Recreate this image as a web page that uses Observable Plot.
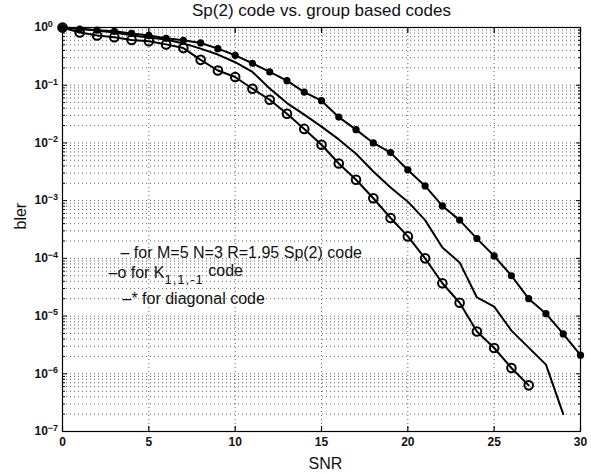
<!DOCTYPE html>
<html>
<head>
<meta charset="utf-8">
<script src="https://cdn.jsdelivr.net/npm/d3@7"></script>
<script src="https://cdn.jsdelivr.net/npm/@observablehq/plot@0.6"></script>
<style>
  html, body { margin: 0; padding: 0; background: #fff; }
  svg { font-family: "Liberation Sans", Arial, Helvetica, sans-serif; }
</style>
</head>
<body>
<div id="chart"></div>
<script>
// ---- data ----
const snrDiag = [0,1,2,3,4,5,6,7,8,9,10,11,12,13,14,15,16,17,18,19,20,21,22,23,24,25,26,27,28,29,30];
const blerDiag = [1, 0.94, 0.90, 0.86, 0.79, 0.73, 0.65, 0.60, 0.54, 0.43, 0.33, 0.24, 0.17, 0.12,
  0.076, 0.054, 0.028, 0.017, 0.010, 0.0068, 0.0034, 0.0018, 8.1e-4, 4.6e-4, 2.2e-4, 1.1e-4,
  5.0e-5, 2.0e-5, 1.1e-5, 4.9e-6, 2.1e-6];

const snrK = [0,1,2,3,4,5,6,7,8,9,10,11,12,13,14,15,16,17,18,19,20,21,22,23,24,25,26,27];
const blerK = [1, 0.82, 0.73, 0.68, 0.61, 0.58, 0.51, 0.44, 0.275, 0.18, 0.139, 0.087, 0.056, 0.032,
  0.0175, 0.0093, 0.0044, 0.0023, 0.0011, 5.0e-4, 2.4e-4, 1.0e-4, 3.7e-5, 1.7e-5, 5.4e-6,
  2.8e-6, 1.26e-6, 6.3e-7];

const snrSp = [0,1,2,3,4,5,6,7,8,9,10,11,12,13,14,15,16,17,18,19,20,21,22,23,24,25,26,27,28,29];
const blerSp = [1, 0.96, 0.89, 0.82, 0.73, 0.67, 0.62, 0.53, 0.43, 0.34, 0.25, 0.17, 0.088, 0.049,
  0.031, 0.0192, 0.0115, 0.0065, 0.0032, 0.00169, 9.6e-4, 4.6e-4, 1.54e-4, 8.5e-5, 2.1e-5,
  1.46e-5, 5.6e-6, 2.84e-6, 1.44e-6, 2.0e-7];

const xTicks = [0, 5, 10, 15, 20, 25, 30];
const yDecades = [1, 1e-1, 1e-2, 1e-3, 1e-4, 1e-5, 1e-6, 1e-7];
const yExponents = [0, -1, -2, -3, -4, -5, -6, -7];
const minorMult = [2, 3, 4, 5, 6, 7, 8, 9];

const titleText = "Sp(2) code vs. group based codes";
const xLabel = "SNR";
const yLabel = "bler";
const legendLines = [
  "\u2013 for M=5 N=3 R=1.95 Sp(2) code",
  "\u2013o for K_{1,1,-1} code",
  "\u2013* for diagonal code"
];

// ---- derived tables ----
const diag = snrDiag.map((x, i) => ({x, y: blerDiag[i]}));
const kcode = snrK.map((x, i) => ({x, y: blerK[i]}));
const sp = snrSp.map((x, i) => ({x, y: blerSp[i]}));
const yMinor = [];
for (const d of yDecades.slice(1)) for (const m of minorMult) yMinor.push(m * d);
const yGrid = yDecades.concat(yMinor);
const yLabels = yDecades.map((d, i) => ({y: d, t: "10^" + yExponents[i]}));

const gridStyle = {stroke: "#000", strokeOpacity: 0.6, strokeDasharray: "1,3", strokeWidth: 1};
const fnt = 16;

const chart = Plot.plot({
  width: 591,
  height: 474,
  marginLeft: 62,
  marginRight: 11,
  marginTop: 27,
  marginBottom: 43,
  x: {domain: [0, 30]},
  y: {type: "log", domain: [1e-7, 1]},
  marks: [
    Plot.ruleY(yGrid, gridStyle),
    Plot.ruleX(xTicks.slice(1, -1), gridStyle),
    Plot.frame({stroke: "#000", strokeWidth: 1.2}),
    Plot.axisX({ticks: xTicks, tickSize: -5, tickFormat: () => "", label: null, strokeWidth: 1.2}),
    Plot.axisX({anchor: "top", ticks: xTicks, tickSize: -5, tickFormat: () => "", label: null, strokeWidth: 1.2}),
    Plot.axisX({ticks: xTicks, tickSize: 0, tickPadding: 6, label: null, fontSize: 12, fontWeight: "bold", fill: "#111", tickFormat: d => String(d)}),
    Plot.axisY({ticks: yDecades, tickSize: -5, tickFormat: () => "", label: null}),
    Plot.axisY({ticks: yMinor, tickSize: -3, tickFormat: () => "", label: null}),
    Plot.axisY({anchor: "right", ticks: yDecades, tickSize: -5, tickFormat: () => "", label: null}),
    Plot.axisY({anchor: "right", ticks: yMinor, tickSize: -3, tickFormat: () => "", label: null}),
    Plot.text(yLabels, {x: () => 0, y: "y", text: "t", textAnchor: "start", dx: -28, fontSize: 12, fontWeight: "bold", fill: "#111"}),
    Plot.line(sp, {x: "x", y: "y", stroke: "#000", strokeWidth: 2}),
    Plot.line(kcode, {x: "x", y: "y", stroke: "#000", strokeWidth: 2}),
    Plot.line(diag, {x: "x", y: "y", stroke: "#000", strokeWidth: 2}),
    Plot.dot(kcode, {x: "x", y: "y", r: 4.3, stroke: "#000", strokeWidth: 2, fill: "none"}),
    Plot.dot(diag, {x: "x", y: "y", r: 3.6, fill: "#000", stroke: "none"}),
    Plot.text([titleText], {frameAnchor: "top", dy: -12, lineAnchor: "bottom", fontSize: 17, letterSpacing: 0.6, fill: "#111"}),
    Plot.text([xLabel], {frameAnchor: "bottom", dx: 4, dy: 37, lineAnchor: "bottom", fontSize: fnt, fill: "#111"}),
    Plot.text([yLabel], {frameAnchor: "left", dx: -37, rotate: -90, lineAnchor: "bottom", fontSize: fnt, fill: "#111"}),
    Plot.text([legendLines[0]], {frameAnchor: "top-left", dx: 58, dy: 230, lineAnchor: "bottom", textAnchor: "start", fontSize: fnt, fill: "#111"}),
    Plot.text([legendLines[1]], {frameAnchor: "top-left", dx: 46, dy: 250, lineAnchor: "bottom", textAnchor: "start", fontSize: fnt, fill: "#111"}),
    Plot.text([legendLines[2]], {frameAnchor: "top-left", dx: 60, dy: 276, lineAnchor: "bottom", textAnchor: "start", fontSize: fnt, fill: "#111"})
  ]
});

// superscripts / subscripts
d3.select(chart).selectAll("text").each(function () {
  const el = d3.select(this);
  const s = this.textContent;
  let m;
  if ((m = s.match(/^10\^(-?\d+)$/))) {
    el.text("");
    el.append("tspan").text("10");
    el.append("tspan").attr("dy", "-0.5em").attr("font-size", "9px").text(m[1].replace("-", "\u2212"));
  } else if ((m = s.match(/^(.*)_\{(.*)\}\s*(.*)$/))) {
    el.text("");
    el.append("tspan").text(m[1]);
    el.append("tspan").attr("dy", "0.5em").attr("font-size", "13px").attr("letter-spacing", "1").text(m[2]);
    el.append("tspan").attr("dy", "-0.5em").text("\u00a0" + m[3]);
  }
});

document.getElementById("chart").appendChild(chart);
</script>
</body>
</html>
